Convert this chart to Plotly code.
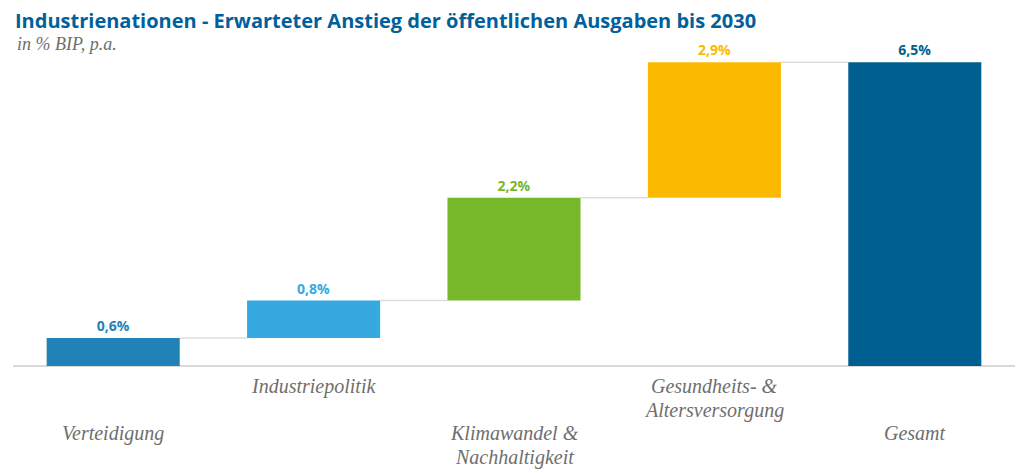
import plotly.graph_objects as go

categories = ["Verteidigung", "Industriepolitik", "Klimawandel &<br>Nachhaltigkeit",
              "Gesundheits- &<br>Altersversorgung", "Gesamt"]
values = [0.6, 0.8, 2.2, 2.9, 6.5]
is_total = [False, False, False, False, True]
colors = ["#1F83B7", "#36A9E1", "#76B82A", "#FBBA00", "#005F91"]
label_level = [0, 1, 0, 1, 0]  # 0 = lower row, 1 = upper row
title_text = "Industrienationen - Erwarteter Anstieg der öffentlichen Ausgaben bis 2030"
subtitle_text = "in % BIP, p.a."

# bases for waterfall
bases = []
running = 0.0
for v, t in zip(values, is_total):
    if t:
        bases.append(0.0)
    else:
        bases.append(running)
        running += v
tops = [b + v for b, v in zip(bases, values)]
xs = list(range(len(categories)))
bar_w = 0.664

texts = [f"{v:.1f}".replace(".", ",") + "%" for v in values]

fig = go.Figure()
fig.add_trace(go.Bar(
    x=xs, y=values, base=bases, width=bar_w,
    marker=dict(color=colors, line=dict(width=0)),
    text=texts, textposition="outside", cliponaxis=False,
    textfont=dict(family="Open Sans", size=14, color=colors, weight="bold"),
    hoverinfo="skip",
))

shapes = []
for i in range(len(xs) - 1):
    shapes.append(dict(type="line", xref="x", yref="y",
                       x0=xs[i] + bar_w / 2, x1=xs[i + 1] - bar_w / 2,
                       y0=tops[i], y1=tops[i],
                       line=dict(color="#DDDDDD", width=1.5), layer="below"))

plot_h = 327.0  # plot area height in px
first_line_px = {1: 20, 0: 67}
line_gap_px = 24
annotations = []
for i, c in enumerate(categories):
    for j, line in enumerate(c.split("<br>")):
        off = first_line_px[label_level[i]] + j * line_gap_px
        annotations.append(dict(
            x=xs[i], xref="x", yref="paper", y=-off / plot_h,
            yanchor="middle", showarrow=False, text=line, align="center",
            font=dict(family="Liberation Serif", size=20, color="#6E6E6E", style="italic"),
        ))
annotations.append(dict(
    x=0, xref="paper", xanchor="left", y=1.058, yref="paper", yanchor="middle",
    showarrow=False, text=f"<b>{title_text}</b>",
    font=dict(family="Open Sans", size=20, color="#00609C")))
annotations.append(dict(
    x=0.002, xref="paper", xanchor="left", y=0.985, yref="paper", yanchor="middle",
    showarrow=False, text=f"<i>{subtitle_text}</i>",
    font=dict(family="Liberation Serif", size=18, color="#6E6E6E")))

fig.update_layout(
    width=1024, height=473,
    margin=dict(l=13, r=9, t=39, b=107),
    paper_bgcolor="white", plot_bgcolor="white",
    showlegend=False,
    xaxis=dict(range=[-0.5, 4.5], showticklabels=False, showgrid=False, zeroline=False,
               showline=False, ticks=""),
    yaxis=dict(range=[0, 7.0], showticklabels=False, showgrid=False, zeroline=True,
               zerolinecolor="#D9D9D9", zerolinewidth=1.5, showline=False, ticks=""),
    shapes=shapes,
    annotations=annotations,
)

fig.write_html("out.html", config={"displayModeBar": False},
               post_script="document.body.style.margin='0';document.body.style.overflow='hidden';")
